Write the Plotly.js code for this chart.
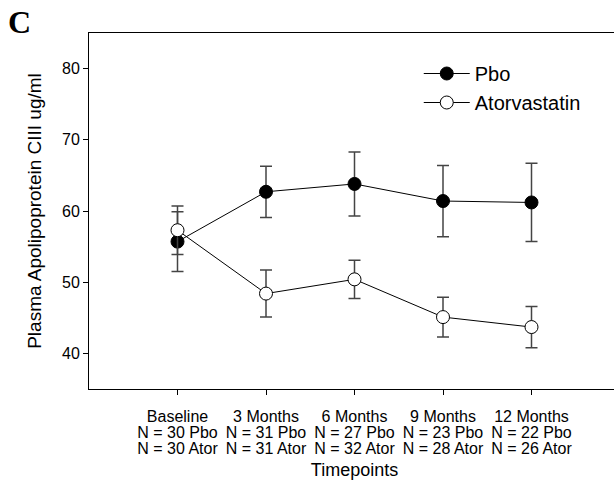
<!DOCTYPE html>
<html>
<head>
<meta charset="utf-8">
<script src="https://cdn.plot.ly/plotly-3.0.1.min.js"></script>
<style>html,body{margin:0;padding:0;overflow:hidden;background:#fff}</style>
</head>
<body>
<div id="chart"></div>
<script>
const positions = [0, 1, 2, 3, 4];
const timepoints = ["Baseline", "3 Months", "6 Months", "9 Months", "12 Months"];
const nPbo = ["N = 30 Pbo", "N = 31 Pbo", "N = 27 Pbo", "N = 23 Pbo", "N = 22 Pbo"];
const nAtor = ["N = 30 Ator", "N = 31 Ator", "N = 32 Ator", "N = 28 Ator", "N = 26 Ator"];
const pboMean = [55.7, 62.7, 63.8, 61.4, 61.2];
const pboErr  = [4.2, 3.6, 4.5, 5.0, 5.5];
const atorMean = [57.3, 48.4, 50.4, 45.1, 43.7];
const atorErr  = [3.4, 3.3, 2.7, 2.8, 2.9];
const yTicks = [40, 50, 60, 70, 80];

const font = "Liberation Sans, Arial, sans-serif";
const xRange = [-1, 5];

const traces = [
  {
    name: "Pbo", x: positions, y: pboMean, mode: "lines+markers", type: "scatter",
    line: {color: "#000", width: 1},
    marker: {symbol: "circle", size: 13, color: "#000", line: {color: "#000", width: 1}},
    error_y: {type: "data", array: pboErr, visible: true, color: "#444", thickness: 1.5, width: 6}
  },
  {
    name: "Atorvastatin", x: positions, y: atorMean, mode: "lines+markers", type: "scatter",
    line: {color: "#000", width: 1},
    marker: {symbol: "circle", size: 13, color: "#fff", line: {color: "#000", width: 1}},
    error_y: {type: "data", array: atorErr, visible: true, color: "#444", thickness: 1.5, width: 6}
  },
  // helper traces (no drawn points) so the extra label axes are rendered
  {x: [positions[0]], y: [null], xaxis: "x2", type: "scatter", mode: "markers",
   showlegend: false, hoverinfo: "skip"},
  {x: [positions[0]], y: [null], xaxis: "x3", type: "scatter", mode: "markers",
   showlegend: false, hoverinfo: "skip"}
];

const tickFont = {family: font, size: 16, color: "#000"};
function labelAxis(text, standoff, extra) {
  return Object.assign({
    overlaying: "x", anchor: "y", side: "bottom", range: xRange,
    tickvals: positions, ticktext: text, tickfont: tickFont,
    showgrid: false, zeroline: false, showline: false, ticks: "",
    ticklabelstandoff: standoff, fixedrange: true
  }, extra || {});
}

const layout = {
  width: 620, height: 482,
  margin: {l: 89, r: 0, t: 33, b: 93},
  paper_bgcolor: "#fff", plot_bgcolor: "#fff",
  font: {family: font, color: "#000", size: 16},
  showlegend: true,
  legend: {x: 0.621, y: 0.941, xanchor: "left", yanchor: "top", bgcolor: "rgba(0,0,0,0)",
           itemwidth: 46, tracegroupgap: 0,
           font: {family: font, size: 20, color: "#000"}},
  xaxis: {
    range: xRange, tickvals: positions, ticktext: timepoints,
    showgrid: false, zeroline: false, showline: true, linecolor: "#000", linewidth: 1, mirror: true,
    ticks: "outside", ticklen: 5, tickcolor: "#000",
    tickfont: tickFont, ticklabelstandoff: 8
  },
  xaxis2: labelAxis(nPbo, 32),
  xaxis3: labelAxis(nAtor, 48, {
    title: {text: "Timepoints", font: {family: font, size: 18, color: "#000"}, standoff: 7}
  }),
  yaxis: {
    range: [35, 85], tickvals: yTicks,
    showgrid: false, zeroline: false, showline: true, linecolor: "#000", linewidth: 1, mirror: true,
    ticks: "outside", ticklen: 5, tickcolor: "#000",
    tickfont: {family: font, size: 16, color: "#000"},
    title: {text: "Plasma Apolipoprotein CIII ug/ml", font: {family: font, size: 19, color: "#000"}, standoff: 15}
  },
  annotations: [
    {text: "<b>C</b>", xref: "paper", yref: "paper", x: -0.156, y: 1.031, xanchor: "left", yanchor: "middle",
     showarrow: false, font: {family: "Liberation Serif, Times New Roman, serif", size: 32, color: "#000"}}
  ]
};

Plotly.newPlot("chart", traces, layout, {displayModeBar: false, staticPlot: true});
</script>
</body>
</html>
